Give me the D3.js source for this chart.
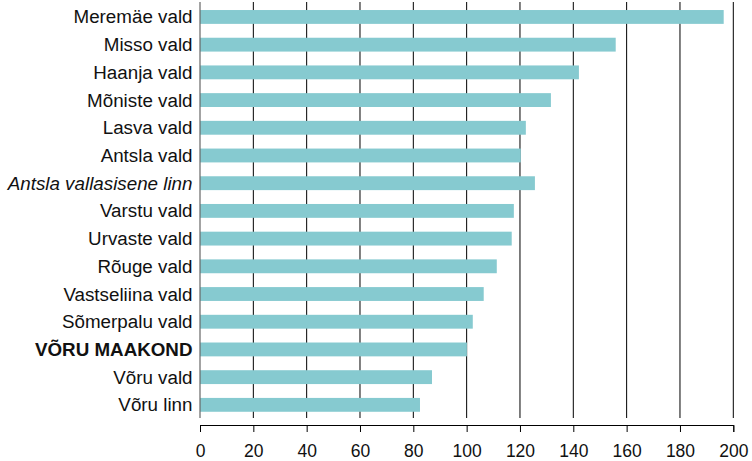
<!DOCTYPE html>
<html><head><meta charset="utf-8">
<script src="https://cdn.jsdelivr.net/npm/d3@7"></script>
<style>body{margin:0;background:#fff}svg{display:block}text{font-family:"Liberation Sans",Arial,sans-serif}</style>
</head><body>
<script>
const categories = ["Meremäe vald","Misso vald","Haanja vald","Mõniste vald","Lasva vald","Antsla vald","Antsla vallasisene linn","Varstu vald","Urvaste vald","Rõuge vald","Vastseliina vald","Sõmerpalu vald","VÕRU MAAKOND","Võru vald","Võru linn"];
const values = [196.4,155.9,142.1,131.6,122.2,120.3,125.6,117.7,116.9,111.3,106.4,102.3,100.1,87.0,82.5];
const boldLabels = ["VÕRU MAAKOND"];
const italicLabels = ["Antsla vallasisene linn"];
const xTicks = [0,20,40,60,80,100,120,140,160,180,200];

const W = 752, H = 461;
const svg = d3.select("body").append("svg").attr("width", W).attr("height", H);
const x = d3.scaleLinear().domain([0,200]).range([200,733.3]);
const y = d3.scaleBand().domain(categories).range([3.1,418.7]).paddingInner(0.5).paddingOuter(0.25);

// gridlines
svg.append("g").selectAll("line").data(xTicks.slice(1)).join("line")
  .attr("x1", d=>x(d)).attr("x2", d=>x(d)).attr("y1", 2).attr("y2", 418)
  .attr("stroke", "#000").attr("stroke-width", 1);

// bars
svg.append("g").selectAll("rect").data(categories).join("rect")
  .attr("x", x(0)).attr("y", d=>y(d))
  .attr("width", (d,i)=>x(values[i])-x(0)).attr("height", y.bandwidth())
  .attr("fill", "#86cad0");

// left axis line
svg.append("line").attr("x1", x(0)).attr("x2", x(0)).attr("y1", 2).attr("y2", 418)
  .attr("stroke", "#666").attr("stroke-width", 1.2);

// category labels
svg.append("g").selectAll("text").data(categories).join("text")
  .attr("x", 192.5).attr("y", d=>y(d)+y.bandwidth()/2)
  .attr("text-anchor","end").attr("dominant-baseline","central")
  .attr("font-size", 18.8).attr("fill","#111")
  .attr("font-weight", d=>boldLabels.includes(d)?"bold":"normal")
  .attr("font-style", d=>italicLabels.includes(d)?"italic":"normal")
  .text(d=>d);

// bottom axis
const ax = d3.axisBottom(x).tickValues(xTicks).tickSize(7).tickSizeOuter(7).tickPadding(12.5);
const g = svg.append("g").attr("transform","translate(0,425)").call(ax);
g.select(".domain").attr("stroke","#000");
g.selectAll(".tick line").attr("stroke","#000");
g.selectAll(".tick text").attr("font-size",17.5).attr("fill","#111")
  .attr("font-family",'"Liberation Sans",Arial,sans-serif');
</script>
</body></html>
